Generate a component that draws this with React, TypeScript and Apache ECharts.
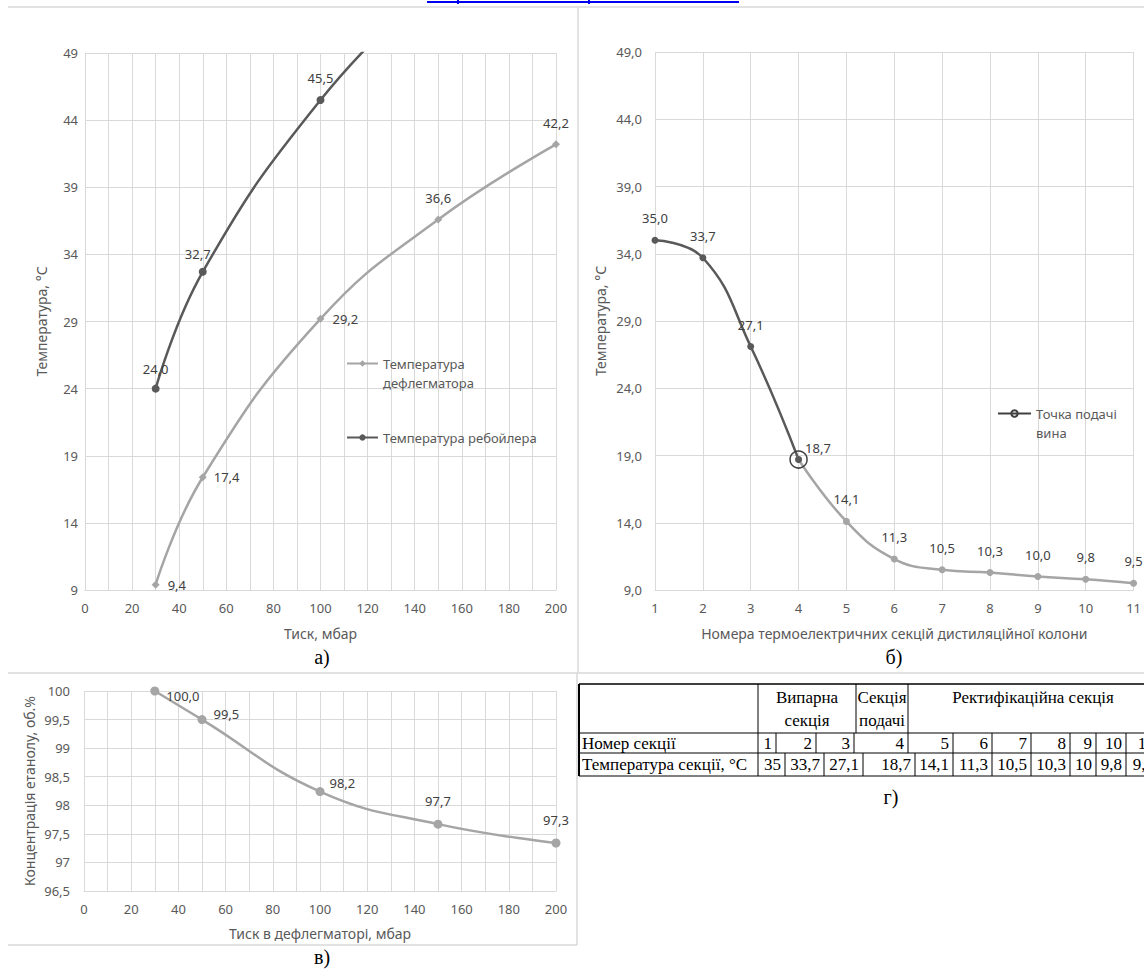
import React, { useEffect, useRef } from 'react';
import * as echarts from 'echarts';

// ---------- data ----------
const pressure = [30, 50, 100, 150, 200];
const deflegmatorTemp = [9.4, 17.4, 29.2, 36.6, 42.2];
// reboiler curve continues above the 49 °C axis limit (clipped in the picture)
const reboilerTemp = [24.0, 32.7, 45.5, 54.6];
const sectionNos = [1, 2, 3, 4, 5, 6, 7, 8, 9, 10, 11];
const sectionTemps = [35.0, 33.7, 27.1, 18.7, 14.1, 11.3, 10.5, 10.3, 10.0, 9.8, 9.5];
const feedSectionIndex = 3; // section 4
const ethanolConc = [100.0, 99.5, 98.24, 97.67, 97.34];
const tableHeaders = ['Випарна\nсекція', 'Секція\nподачі', 'Ректифікаційна секція'];
const tableRowNames = ['Номер секції', 'Температура секції, °C'];
const captions = ['а)', 'б)', 'в)', 'г)'];

// ---------- styles ----------
const FONT = 'Noto Sans';
const SERIF = 'Liberation Serif';
const GRID_COLOR = '#d9d9d9';
const TEXT = '#595959';
const LABEL = '#404040';
const DARK = '#595959';
const LIGHT = '#a5a5a5';

const fmt1 = (v: number) => v.toFixed(1).replace('.', ',');
const fmtTable = (v: number) => String(v).replace('.', ',');

const axisLabelStyle = { color: TEXT, fontFamily: FONT, fontSize: 13 };
const nameStyle = { color: TEXT, fontFamily: FONT, fontSize: 14 };
const splitLine = { show: true, lineStyle: { color: GRID_COLOR, width: 1 } };
const dataLabel = { show: true, color: LABEL, fontFamily: FONT, fontSize: 13 };

// label placements (layout only)
const defLabelPos = [
  { position: 'right', distance: 8 },
  { position: 'right', distance: 7 },
  { position: 'right', distance: 8 },
  { position: 'top', distance: 11 },
  { position: 'top', distance: 11 },
];
const rebLabelPos = [
  { position: 'top', distance: 9 },
  { position: 'top', distance: 7, offset: [-5, 0] },
  { position: 'top', distance: 11 },
  { position: 'top', distance: 11 },
];
const concLabelPos = [
  { position: 'right', distance: 7, offset: [0, 5] },
  { position: 'right', distance: 7, offset: [0, -6] },
  { position: 'right', distance: 5, offset: [0, -9] },
  { position: 'top', distance: 12 },
  { position: 'top', distance: 12 },
];

// table layout
const tRows = [684, 733, 753, 776];
const tLeft = 579;
const tRight = 1158;
const headerCols = [758, 856, 908, tRight];
const row2Cols = [758, 776, 816, 854, 908, 953, 992, 1031, 1070, 1096, 1126, tRight];
const row3Cols = [758, 785, 824, 863, 915, 953, 992, 1031, 1070, 1096, 1126, tRight];

function buildGraphics() {
  const els: any[] = [];
  const line = (x1: number, y1: number, x2: number, y2: number, stroke: string, w = 1) =>
    els.push({ type: 'line', shape: { x1, y1, x2, y2 }, style: { stroke, lineWidth: w }, silent: true });
  const text = (t: string, x: number, y: number, opts: any = {}) =>
    els.push({
      type: 'text', x, y, silent: true,
      style: {
        text: t, fontFamily: SERIF, fontSize: 17, fill: '#000',
        align: opts.align || 'left', verticalAlign: 'middle', lineHeight: opts.lineHeight || 20,
        ...(opts.style || {}),
      },
    });

  // page frame lines
  line(427, 2, 739, 2, '#0000ee', 2);
  line(458, 0, 458, 4, '#0000ee', 2);
  line(589, 0, 589, 4, '#0000ee', 2);
  line(8, 7, 1144, 7, GRID_COLOR, 1.5);
  line(578, 7, 578, 673, GRID_COLOR, 1.5);
  line(8, 673, 1144, 673, GRID_COLOR, 1.5);
  line(577, 673, 577, 945, GRID_COLOR, 1.5);
  line(8, 945, 577, 945, GRID_COLOR, 1.5);

  // captions
  text(captions[0], 322, 657, { align: 'center', style: { fontSize: 20 } });
  text(captions[1], 894, 657, { align: 'center', style: { fontSize: 20 } });
  text(captions[2], 322, 957, { align: 'center', style: { fontSize: 20 } });
  text(captions[3], 891, 797, { align: 'center', style: { fontSize: 20 } });

  // table г)
  line(tLeft, tRows[0], tRight, tRows[0], '#000', 1.5);
  for (let r = 1; r < tRows.length; r++) line(tLeft, tRows[r], tRight, tRows[r], '#000', 1);
  line(tLeft, tRows[0], tLeft, tRows[3], '#000', 2);
  headerCols.forEach((x) => line(x, tRows[0], x, tRows[1], '#000', 1));
  row2Cols.forEach((x) => line(x, tRows[1], x, tRows[2], '#000', 1));
  row3Cols.forEach((x) => line(x, tRows[2], x, tRows[3], '#000', 1));

  text(tableHeaders[0], (headerCols[0] + headerCols[1]) / 2, (tRows[0] + tRows[1]) / 2, { align: 'center', lineHeight: 23 });
  text(tableHeaders[1], (headerCols[1] + headerCols[2]) / 2, (tRows[0] + tRows[1]) / 2, { align: 'center', lineHeight: 23 });
  text(tableHeaders[2], (headerCols[2] + 1158) / 2, tRows[0] + 13, { align: 'center' });

  text(tableRowNames[0], 582, (tRows[1] + tRows[2]) / 2);
  text(tableRowNames[1], 582, (tRows[2] + tRows[3]) / 2);
  sectionNos.forEach((n, i) => text(String(n), row2Cols[i + 1] - 4, (tRows[1] + tRows[2]) / 2, { align: 'right' }));
  sectionTemps.forEach((v, i) => text(fmtTable(v), row3Cols[i + 1] - 4, (tRows[2] + tRows[3]) / 2, { align: 'right' }));

  return els;
}

function buildOption(): any {
  const defData = pressure.map((p, i) => ({ value: [p, deflegmatorTemp[i]], label: defLabelPos[i] }));
  const rebData = reboilerTemp.map((t, i) => ({ value: [pressure[i], t], label: rebLabelPos[i] }));
  const evapData = sectionNos.slice(0, feedSectionIndex + 1).map((n, i) => ({
    value: [n, sectionTemps[i]],
    label: i === feedSectionIndex ? { position: 'right', distance: 3, offset: [0, -12] } : { position: 'top', distance: 12 },
  }));
  const rectData = sectionNos.slice(feedSectionIndex).map((n, i) => ({
    value: [n, sectionTemps[i + feedSectionIndex]],
    label: i === 0 ? { show: false } : { position: 'top', distance: 12 },
  }));
  const feedData = [[sectionNos[feedSectionIndex], sectionTemps[feedSectionIndex]]];
  const concData = pressure.map((p, i) => ({ value: [p, ethanolConc[i]], label: concLabelPos[i] }));

  const valLabel = (p: any) => fmt1(p.value[1]);

  return {
    animation: false,
    backgroundColor: '#fff',
    textStyle: { fontFamily: FONT },
    grid: [
      { left: 85, top: 53, width: 471, height: 537 },
      { left: 655, top: 52, width: 479, height: 538 },
      { left: 84, top: 691, width: 472, height: 200 },
    ],
    xAxis: [
      {
        gridIndex: 0, type: 'value', min: 0, max: 200, interval: 10,
        axisLine: { show: true, lineStyle: { color: GRID_COLOR } }, axisTick: { show: false },
        axisLabel: { ...axisLabelStyle, margin: 11, formatter: (v: number) => (v % 20 === 0 ? String(v) : '') },
        splitLine, name: 'Тиск, мбар', nameLocation: 'middle', nameGap: 36, nameTextStyle: nameStyle,
      },
      {
        gridIndex: 1, type: 'value', min: 1, max: 11, interval: 1,
        axisLine: { show: true, lineStyle: { color: GRID_COLOR } }, axisTick: { show: false },
        axisLabel: { ...axisLabelStyle, margin: 11 },
        splitLine, name: 'Номера термоелектричних секцій дистиляційної колони', nameLocation: 'middle', nameGap: 36, nameTextStyle: nameStyle,
      },
      {
        gridIndex: 2, type: 'value', min: 0, max: 200, interval: 10,
        axisLine: { show: true, lineStyle: { color: GRID_COLOR } }, axisTick: { show: false },
        axisLabel: { ...axisLabelStyle, margin: 11, formatter: (v: number) => (v % 20 === 0 ? String(v) : '') },
        splitLine, name: 'Тиск в дефлегматорі, мбар', nameLocation: 'middle', nameGap: 35, nameTextStyle: nameStyle,
      },
    ],
    yAxis: [
      {
        gridIndex: 0, type: 'value', min: 9, max: 49, interval: 5,
        axisLine: { show: false }, axisTick: { show: false },
        axisLabel: { ...axisLabelStyle, margin: 7 },
        splitLine, name: 'Температура, °C', nameLocation: 'middle', nameGap: 37, nameTextStyle: nameStyle,
      },
      {
        gridIndex: 1, type: 'value', min: 9, max: 49, interval: 5,
        axisLine: { show: false }, axisTick: { show: false },
        axisLabel: { ...axisLabelStyle, margin: 13, formatter: (v: number) => fmt1(v) },
        splitLine, name: 'Температура, °C', nameLocation: 'middle', nameGap: 48, nameTextStyle: nameStyle,
      },
      {
        gridIndex: 2, type: 'value', min: 96.5, max: 100, interval: 0.5,
        axisLine: { show: false }, axisTick: { show: false },
        axisLabel: { ...axisLabelStyle, margin: 14, formatter: (v: number) => String(v).replace('.', ',') },
        splitLine, name: 'Концентрація етанолу, об.%', nameLocation: 'middle', nameGap: 48, nameTextStyle: nameStyle,
      },
    ],
    legend: [
      {
        orient: 'vertical', left: 346, top: 335, itemGap: 36, itemWidth: 31, itemHeight: 8, padding: 0,
        selectedMode: false,
        data: ['Температура дефлегматора', 'Температура ребойлера'],
        formatter: (name: string) => (name === 'Температура дефлегматора' ? ' \nТемпература\nдефлегматора' : name),
        textStyle: { color: TEXT, fontFamily: FONT, fontSize: 13, lineHeight: 19 },
      },
      {
        orient: 'vertical', left: 997, top: 385, itemWidth: 33, itemHeight: 8, padding: 0,
        selectedMode: false,
        data: ['Точка подачі вина'],
        formatter: () => ' \nТочка подачі\nвина',
        textStyle: { color: TEXT, fontFamily: FONT, fontSize: 13, lineHeight: 19 },
      },
    ],
    series: [
      {
        name: 'Температура дефлегматора', type: 'line', xAxisIndex: 0, yAxisIndex: 0,
        data: defData, smooth: 0.45, symbol: 'diamond', symbolSize: 8,
        itemStyle: { color: LIGHT }, lineStyle: { color: LIGHT, width: 2.5 },
        label: { ...dataLabel, formatter: valLabel },
      },
      {
        name: 'Температура ребойлера', type: 'line', xAxisIndex: 0, yAxisIndex: 0,
        data: rebData, smooth: 0.45, symbol: 'circle', symbolSize: 8, clip: true,
        itemStyle: { color: DARK }, lineStyle: { color: DARK, width: 2.5 },
        label: { ...dataLabel, formatter: (p: any) => (p.value[1] > 49 ? '' : fmt1(p.value[1])) },
      },
      {
        name: 'Ректифікаційна секція', type: 'line', xAxisIndex: 1, yAxisIndex: 1,
        data: rectData, smooth: 0.45, symbol: 'circle', symbolSize: 7,
        itemStyle: { color: LIGHT }, lineStyle: { color: LIGHT, width: 2.5 },
        label: { ...dataLabel, formatter: valLabel },
      },
      {
        name: 'Випарна секція', type: 'line', xAxisIndex: 1, yAxisIndex: 1,
        data: evapData, smooth: 0.45, symbol: 'circle', symbolSize: 7,
        itemStyle: { color: DARK }, lineStyle: { color: DARK, width: 2.5 },
        label: { ...dataLabel, formatter: valLabel },
      },
      {
        name: 'Точка подачі вина', type: 'line', xAxisIndex: 1, yAxisIndex: 1,
        data: feedData, symbol: 'circle', symbolSize: 17, z: 5,
        itemStyle: { color: 'rgba(255,255,255,0)', borderColor: '#404040', borderWidth: 1.5 },
        lineStyle: { color: '#404040', width: 2.5 },
        label: { show: false },
      },
      {
        name: 'Концентрація етанолу', type: 'line', xAxisIndex: 2, yAxisIndex: 2,
        data: concData, smooth: 0.45, symbol: 'circle', symbolSize: 9,
        itemStyle: { color: LIGHT }, lineStyle: { color: LIGHT, width: 2.5 },
        label: { ...dataLabel, formatter: valLabel },
      },
    ],
    graphic: { elements: buildGraphics() },
  };
}

export default function App() {
  const ref = useRef<HTMLDivElement>(null);
  useEffect(() => {
    if (!ref.current) return;
    const chart = echarts.init(ref.current, null, { renderer: 'svg' });
    chart.setOption(buildOption());
    return () => chart.dispose();
  }, []);
  return (
    <div
      ref={ref}
      style={{ position: 'absolute', left: 0, top: 0, width: 1144, height: 969, background: '#fff' }}
    />
  );
}
